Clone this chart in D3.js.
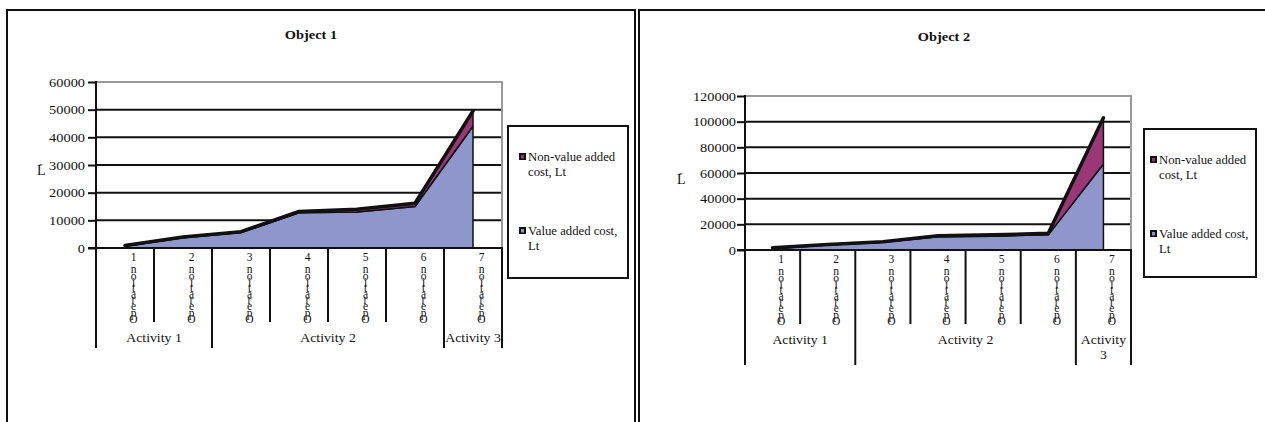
<!DOCTYPE html>
<html>
<head>
<meta charset="utf-8">
<script src="https://cdn.jsdelivr.net/npm/d3@7"></script>
<style>
  html, body { margin: 0; padding: 0; background: #fff; }
  svg { display: block; font-family: "Liberation Serif", "Times New Roman", serif; }
  svg text { font-family: "Liberation Serif", "Times New Roman", serif; }
  text.op-label { writing-mode: vertical-rl; text-orientation: upright; }
</style>
</head>
<body>
<svg id="chart" width="1265" height="422"></svg>
<script>
// Operations along the process and the activities they belong to
const operations = ["Operation 1", "Operation 2", "Operation 3", "Operation 4",
                    "Operation 5", "Operation 6", "Operation 7"];
const activities = ["Activity 1", "Activity 2", "Activity 3"];
const activityOperationCount = [2, 4, 1];
const seriesLabels = ["Non-value added cost, Lt", "Value added cost, Lt"];

// Object 1 costs, Lt
const object1Value    = [600, 3700, 5600, 12700, 13000, 15000, 44000];
const object1NonValue = [300,  300,  300,   500,  1000,  1200,  5500];
const object1Ticks    = [0, 10000, 20000, 30000, 40000, 50000, 60000];

// Object 2 costs, Lt
const object2Value    = [1000, 3800, 6000, 10300, 10800, 11800, 67000];
const object2NonValue = [ 800,  400,  500,   800,  1000,  1200, 36000];
const object2Ticks    = [0, 20000, 40000, 60000, 80000, 100000, 120000];

const INK = "#111";
const BLUE = "#8e96cc";
const PURPLE = "#9b3677";
const GREY = "#9a9a9a";
const SX = 1.15; // horizontal stretch of the lettering

const svg = d3.select("#chart");

function place(t, x, y, sx = SX) {
  return t.attr("x", 0).attr("y", 0)
          .attr("transform", `translate(${x},${y}) scale(${sx},1)`);
}

function drawPanel(cfg) {
  const g = svg.append("g");
  const { left, right, top, bottom } = cfg.plot;

  const x = d3.scaleBand().domain(operations).range([left, right]);
  const y = d3.scaleLinear().domain([0, d3.max(cfg.ticks)]).range([bottom, top]);
  const cx = op => x(op) + x.bandwidth() / 2;

  // panel frame
  g.append("path").attr("d", cfg.frame)
    .attr("fill", "none").attr("stroke", INK).attr("stroke-width", 2);

  // title
  place(g.append("text").text(cfg.title)
      .attr("text-anchor", "middle").attr("font-weight", "bold")
      .attr("font-size", 12.5).attr("fill", INK), cfg.titleX, cfg.titleY);

  // horizontal gridlines
  const yMax = d3.max(cfg.ticks);
  g.selectAll("line.grid").data(cfg.ticks.filter(v => v > 0 && v < yMax))
    .join("line").attr("class", "grid")
    .attr("x1", left).attr("x2", right)
    .attr("y1", d => y(d)).attr("y2", d => y(d))
    .attr("stroke", INK).attr("stroke-width", 2);

  // grey top and right border of the plot area
  g.append("path").attr("d", `M${left},${y(yMax)}H${right}V${bottom}`)
    .attr("fill", "none").attr("stroke", GREY).attr("stroke-width", 2);

  // stacked areas: value added at the bottom, non-value added on top
  const rows = operations.map((op, i) => ({ op, value: cfg.value[i], nonValue: cfg.nonValue[i] }));
  const layers = d3.stack().keys(["value", "nonValue"])(rows);
  const area = d3.area()
    .x(d => cx(d.data.op)).y0(d => y(d[0])).y1(d => y(d[1]));
  g.selectAll("path.layer").data(layers).join("path").attr("class", "layer")
    .attr("d", area)
    .attr("fill", (d, i) => i === 0 ? BLUE : PURPLE)
    .attr("stroke", INK).attr("stroke-width", 1.5).attr("stroke-linejoin", "round");

  // heavy outline along the cumulative total
  g.append("path").datum(layers[1])
    .attr("d", d3.line().x(d => cx(d.data.op)).y(d => y(d[1])))
    .attr("fill", "none").attr("stroke", INK).attr("stroke-width", 3.5)
    .attr("stroke-linejoin", "round").attr("stroke-linecap", "round");

  // y axis with outward tick marks
  const yAxis = g.append("g").attr("transform", `translate(${left},0)`)
    .call(d3.axisLeft(y).tickValues(cfg.ticks).tickFormat(d3.format("d"))
            .tickSize(8).tickSizeOuter(0))
    .attr("font-family", null).attr("font-size", null);
  yAxis.select(".domain").remove();
  yAxis.selectAll(".tick line").attr("stroke", INK).attr("stroke-width", 2);
  yAxis.selectAll(".tick text").each(function () {
    place(d3.select(this), -cfg.tickGap, 4)
      .attr("dy", null).attr("text-anchor", "end")
      .attr("font-size", 12.5).attr("fill", INK);
  });

  // axis title
  g.append("text").text("L").attr("x", cfg.titlePos[0]).attr("y", cfg.titlePos[1])
    .attr("font-size", 14).attr("fill", INK);
  g.append("text").text("t")
    .attr("transform", `translate(${cfg.titlePos[0] + 2},${cfg.titlePos[1] - 11}) rotate(90)`)
    .attr("font-size", 7).attr("fill", INK);

  // category dividers and activity group dividers below the axis
  const groupEdges = [0];
  activityOperationCount.forEach(n => groupEdges.push(groupEdges[groupEdges.length - 1] + n));
  const edgeX = i => i < operations.length ? x(operations[i]) : right;
  const innerBottom = bottom + 74;

  // activity labels (wrapped to fit the group width)
  const labelY = bottom + 94;
  let maxLines = 1;
  activities.forEach((name, k) => {
    const x0 = edgeX(groupEdges[k]), x1 = edgeX(groupEdges[k + 1]);
    const t = place(g.append("text").attr("text-anchor", "middle")
        .attr("font-size", 12).attr("fill", INK), (x0 + x1) / 2, labelY).text(name);
    if (t.node().getComputedTextLength() * SX > (x1 - x0) - 1) {
      const words = name.split(" ");
      t.text(null);
      t.append("tspan").attr("x", 0).attr("dy", 0).text(words.slice(0, -1).join(" "));
      t.append("tspan").attr("x", 0).attr("dy", 15).text(words[words.length - 1]);
      maxLines = 2;
    }
  });
  const groupBottom = bottom + 100 + 15 * (maxLines - 1);

  d3.range(operations.length + 1).forEach(i => {
    const isGroup = groupEdges.includes(i);
    g.append("line")
      .attr("x1", edgeX(i)).attr("x2", edgeX(i))
      .attr("y1", i === 0 ? top - 1 : bottom).attr("y2", isGroup ? groupBottom : innerBottom)
      .attr("stroke", INK).attr("stroke-width", 2);
  });

  // x axis baseline
  g.append("line").attr("x1", left - 8).attr("x2", right + 1)
    .attr("y1", bottom).attr("y2", bottom)
    .attr("stroke", INK).attr("stroke-width", 2);

  // operation labels, letters stacked upright top to bottom and squeezed together
  const labelSpan = innerBottom - bottom - 6;
  operations.forEach(op => {
    const shown = Array.from(op).reverse().join("");
    const t = g.append("text").attr("class", "op-label")
      .attr("x", cx(op) + 8.5).attr("y", bottom + 3)
      .attr("font-size", 11.5).attr("fill", INK)
      .text(shown);
    // tighten the letter spacing so the column fits above the divider ends
    const natural = t.node().getComputedTextLength();
    const n = shown.length;
    const spacing = (labelSpan - natural) / n;
    t.style("letter-spacing", `${spacing}px`);
  });

  // legend
  const L = cfg.legend;
  g.append("rect").attr("x", L.x).attr("y", L.y).attr("width", L.w).attr("height", L.h)
    .attr("fill", "#fff").attr("stroke", INK).attr("stroke-width", 2);
  const swatchColors = [PURPLE, BLUE];
  seriesLabels.forEach((label, k) => {
    const sy = L.y + 27 + k * 74;
    const sx = L.x + L.swatch;
    g.append("rect").attr("x", sx).attr("y", sy).attr("width", 7).attr("height", 7).attr("fill", INK);
    g.append("rect").attr("x", sx + 2).attr("y", sy + 2).attr("width", 3).attr("height", 3.5)
      .attr("fill", swatchColors[k]);
    // wrap label within the legend box
    const words = label.split(" ");
    const lines = [];
    let cur = "";
    const probe = g.append("text").attr("font-size", 12);
    words.forEach(w => {
      const tryLine = cur ? cur + " " + w : w;
      probe.text(tryLine);
      if (cur && probe.node().getComputedTextLength() * 1.06 > L.w - (sx - L.x) - 12) {
        lines.push(cur); cur = w;
      } else cur = tryLine;
    });
    lines.push(cur);
    probe.remove();
    lines.forEach((ln, j) => {
      place(g.append("text").attr("font-size", 12).attr("fill", INK).text(ln),
            sx + 9, sy + 8 + j * 14.5, 1.06);
    });
  });
}

drawPanel({
  title: "Object 1", titleX: 311, titleY: 39,
  frame: "M7,423V10H635V423",
  plot: { left: 96, right: 502, top: 82, bottom: 248 },
  ticks: object1Ticks, value: object1Value, nonValue: object1NonValue,
  tickGap: 11, titlePos: [37, 175],
  legend: { x: 508, y: 126, w: 120, h: 152, swatch: 11 }
});

drawPanel({
  title: "Object 2", titleX: 944, titleY: 41,
  frame: "M639,423V10H1270",
  plot: { left: 745, right: 1131, top: 96, bottom: 250 },
  ticks: object2Ticks, value: object2Value, nonValue: object2NonValue,
  tickGap: 9, titlePos: [677, 184],
  legend: { x: 1144, y: 129, w: 112, h: 148, swatch: 6 }
});
</script>
</body>
</html>
